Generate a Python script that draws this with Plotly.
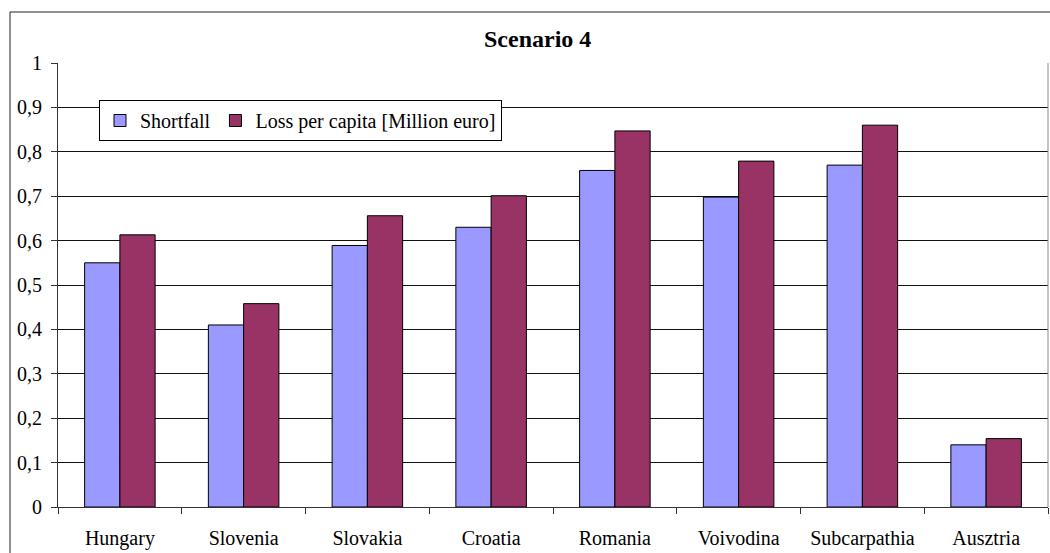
import plotly.graph_objects as go

categories = ["Hungary", "Slovenia", "Slovakia", "Croatia", "Romania",
              "Voivodina", "Subcarpathia", "Ausztria"]
shortfall = [0.55, 0.41, 0.589, 0.63, 0.758, 0.698, 0.77, 0.14]
loss_per_capita = [0.613, 0.458, 0.656, 0.701, 0.847, 0.779, 0.86, 0.154]
series_names = ["Shortfall", "Loss per capita [Million euro]"]
title_text = "Scenario 4"

W, H = 1050, 553
ML, MR, MT, MB = 58, 2, 63, 46
pw = W - ML - MR
ph = H - MT - MB

FONT = "Liberation Serif"

fig = go.Figure()
fig.add_trace(go.Bar(x=categories, y=shortfall, name=series_names[0],
                     marker=dict(color="#9999FF", line=dict(color="#000000", width=1))))
fig.add_trace(go.Bar(x=categories, y=loss_per_capita, name=series_names[1],
                     marker=dict(color="#993366", line=dict(color="#000000", width=1))))


def px_x(x):
    return (x - ML) / pw


def px_y(y):
    return 1 - (y - MT) / ph


fig.update_layout(
    width=W, height=H,
    margin=dict(l=ML, r=MR, t=MT, b=MB, pad=0),
    paper_bgcolor="white", plot_bgcolor="white",
    separators=",.",
    barmode="group", bargap=0.43, bargroupgap=0,
    font=dict(family=FONT, size=20, color="#000000"),
    showlegend=True,
    legend=dict(orientation="h", x=px_x(99), y=px_y(100), xanchor="left", yanchor="top",
                bgcolor="white", bordercolor="#000000", borderwidth=1,
                font=dict(family=FONT, size=20, color="#000000"),
                itemwidth=30, tracegroupgap=0, traceorder="normal"),
    xaxis=dict(type="category", tickson="boundaries", ticks="outside", ticklen=6,
               tickcolor="#333333", showline=True, linecolor="#333333", linewidth=1,
               showgrid=False, tickfont=dict(family=FONT, size=20),
               ticklabelstandoff=13),
    yaxis=dict(range=[0, 1], dtick=0.1, tick0=0, ticks="outside", ticklen=6,
               tickcolor="#333333", showline=True, linecolor="#333333", linewidth=1,
               showgrid=True, gridcolor="#111111", gridwidth=1, zeroline=False,
               tickfont=dict(family=FONT, size=20), ticklabelstandoff=5),
    annotations=[dict(text="<b>" + title_text + "</b>", x=px_x(537), y=px_y(39),
                      xref="paper", yref="paper", xanchor="center", yanchor="middle",
                      showarrow=False, font=dict(family=FONT, size=24, color="#000000"))],
    shapes=[
        dict(type="rect", xref="paper", yref="paper", x0=px_x(10), y0=px_y(12),
             x1=px_x(1060), y1=px_y(570), line=dict(color="#222222", width=1),
             fillcolor="rgba(0,0,0,0)", layer="above"),
        dict(type="line", xref="paper", yref="paper", x0=1, x1=1, y0=0, y1=1,
             line=dict(color="#888888", width=1)),
    ],
)

fig.write_html("out.html")
